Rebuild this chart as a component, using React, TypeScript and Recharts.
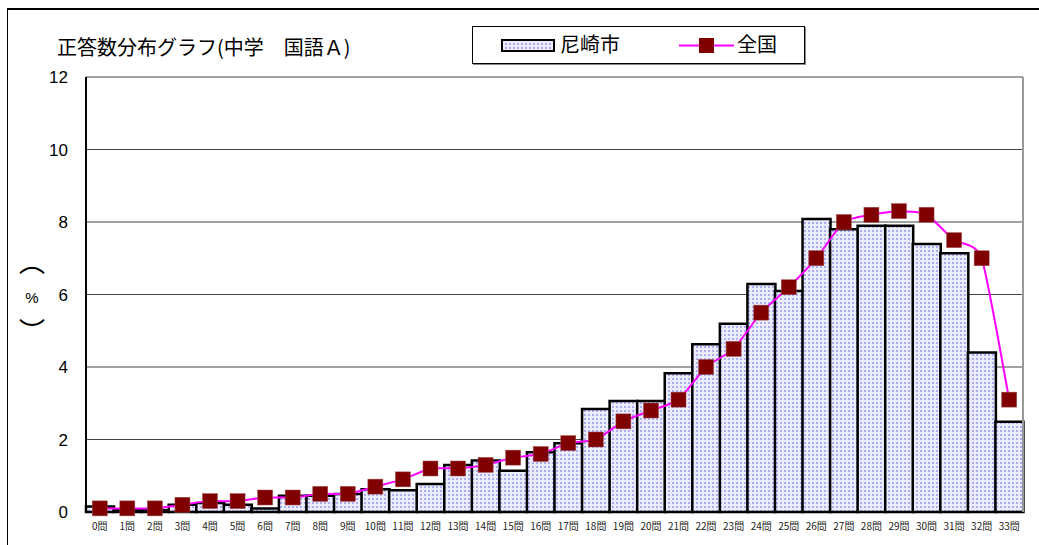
import { ComposedChart, Bar, Line, XAxis, YAxis, CartesianGrid } from 'recharts';

const questions = [
  '0問', '1問', '2問', '3問', '4問', '5問', '6問', '7問', '8問', '9問',
  '10問', '11問', '12問', '13問', '14問', '15問', '16問', '17問', '18問', '19問',
  '20問', '21問', '22問', '23問', '24問', '25問', '26問', '27問', '28問', '29問',
  '30問', '31問', '32問', '33問',
];

const amagasaki = [
  0.15, 0.05, 0.05, 0.2, 0.25, 0.2, 0.1, 0.45, 0.45, 0.5,
  0.63, 0.6, 0.77, 1.3, 1.42, 1.14, 1.65, 1.9, 2.84, 3.06,
  3.06, 3.83, 4.63, 5.19, 6.29, 6.1, 8.08, 7.8, 7.9, 7.9,
  7.39, 7.14, 4.4, 2.49,
];

const national = [
  0.1, 0.1, 0.1, 0.2, 0.3, 0.3, 0.4, 0.4, 0.5, 0.5,
  0.7, 0.9, 1.2, 1.2, 1.3, 1.5, 1.6, 1.9, 2.0, 2.5,
  2.8, 3.1, 4.0, 4.5, 5.5, 6.2, 7.0, 8.0, 8.2, 8.3,
  8.2, 7.5, 7.0, 3.1,
];

const yTicks = [0, 2, 4, 6, 8, 10, 12];

const data = questions.map((q, i) => ({ name: q, city: amagasaki[i], nation: national[i] }));

const jpFont = '"Noto Sans CJK JP", "Liberation Sans", sans-serif';

// gently smoothed line, a bit like Excel's smoothing
function smoothCurve(context: any) {
  let pts: number[][] = [];
  const k = 1 / 10;
  return {
    areaStart() {},
    areaEnd() {},
    lineStart() {
      pts = [];
    },
    point(x: number, y: number) {
      pts.push([+x, +y]);
    },
    lineEnd() {
      if (!pts.length) return;
      context.moveTo(pts[0][0], pts[0][1]);
      for (let i = 0; i < pts.length - 1; i++) {
        const p0 = pts[i - 1] || pts[i];
        const p1 = pts[i];
        const p2 = pts[i + 1];
        const p3 = pts[i + 2] || p2;
        context.bezierCurveTo(
          p1[0] + (p2[0] - p0[0]) * k,
          p1[1] + (p2[1] - p0[1]) * k,
          p2[0] - (p3[0] - p1[0]) * k,
          p2[1] - (p3[1] - p1[1]) * k,
          p2[0],
          p2[1],
        );
      }
    },
  };
}

function SquareDot(props: any) {
  const { cx, cy, index } = props;
  if (cx == null || cy == null) return null;
  return <rect key={index} x={cx - 7.5} y={cy - 7.5} width={15} height={15} fill="#800000" stroke="#a05050" strokeWidth={0.5} />;
}

function PercentLabel(props: any) {
  const { viewBox } = props;
  const cy = viewBox.y + viewBox.height / 2;
  const x = 24;
  return (
    <g fill="#000" textAnchor="middle">
      <text x={x} y={cy - 23} fontSize={26} fontFamily={jpFont}>︵</text>
      <text x={x} y={cy + 8} fontSize={15} fontFamily='"Liberation Sans", Arial, sans-serif'>%</text>
      <text x={x} y={cy + 46} fontSize={26} fontFamily={jpFont}>︶</text>
    </g>
  );
}

function DotPattern({ id }: { id: string }) {
  return (
    <pattern id={id} width="4" height="4" patternUnits="userSpaceOnUse">
      <rect width="4" height="4" fill="#ececff" />
      <rect x="0" y="0" width="2" height="2" fill="#adadf2" />
    </pattern>
  );
}

export default function App() {
  return (
    <div
      style={{
        position: 'fixed',
        left: 7,
        top: 8,
        width: 1032,
        height: 537,
        borderLeft: '1px solid #000',
        borderTop: '2px solid #000',
        overflow: 'hidden',
        background: '#fff',
      }}
    >
      <svg width={0} height={0} style={{ position: 'absolute' }}>
        <defs>
          <DotPattern id="dots" />
        </defs>
      </svg>

      <div
        style={{
          position: 'absolute',
          left: 49,
          top: 25,
          fontFamily: jpFont,
          fontSize: 20,
          lineHeight: '24px',
          color: '#000',
          whiteSpace: 'pre',
        }}
      >
        正答数分布グラフ(中学　国語Ａ)
      </div>

      <div
        style={{
          position: 'absolute',
          left: 464,
          top: 16,
          width: 331,
          height: 36,
          border: '1px solid #000',
          boxShadow: '1px 1px 0 #888',
          fontFamily: jpFont,
          fontSize: 20,
          color: '#000',
        }}
      >
        <svg width={331} height={36} style={{ position: 'absolute', left: 0, top: 0 }}>
          <rect x={29} y={13} width={52} height={11} fill="url(#dots)" stroke="#000" strokeWidth={2} />
          <line x1={206} y1={18.5} x2={261} y2={18.5} stroke="#ff00ff" strokeWidth={2} />
          <rect x={226} y={11} width={15} height={15} fill="#800000" />
        </svg>
        <span style={{ position: 'absolute', left: 87, top: 4, lineHeight: '26px' }}>尼崎市</span>
        <span style={{ position: 'absolute', left: 264, top: 4, lineHeight: '26px' }}>全国</span>
      </div>

      <ComposedChart
        width={1031}
        height={535}
        data={data}
        margin={{ top: 67, right: 0, bottom: 0, left: 0 }}
        barCategoryGap={0}
        barGap={0}
      >
        <CartesianGrid vertical={false} stroke="#444" strokeWidth={1} />
        <XAxis
          dataKey="name"
          height={33}
          interval={0}
          tickLine={false}
          axisLine={{ stroke: '#000', strokeWidth: 2 }}
          tick={{ fontSize: 10, fill: '#222', fontFamily: jpFont }}
          tickMargin={5}
        />
        <YAxis
          width={78}
          domain={[0, 12]}
          ticks={yTicks}
          interval={0}
          tickLine={false}
          axisLine={{ stroke: '#000', strokeWidth: 2 }}
          tick={{ fontSize: 17, fill: '#000', fontFamily: '"Liberation Sans", Arial, sans-serif' }}
          tickMargin={12}
          label={<PercentLabel />}
        />
        <YAxis
          yAxisId="r"
          orientation="right"
          width={16}
          domain={[0, 12]}
          tick={false}
          tickLine={false}
          axisLine={{ stroke: '#999', strokeWidth: 2 }}
        />
        <Bar
          dataKey="city"
          name="尼崎市"
          fill="url(#dots)"
          stroke="#000"
          strokeWidth={2.5}
          isAnimationActive={false}
        />
        <Line
          dataKey="nation"
          name="全国"
          type={smoothCurve as any}
          stroke="#ff00ff"
          strokeWidth={2}
          dot={<SquareDot />}
          activeDot={false}
          isAnimationActive={false}
        />
      </ComposedChart>
    </div>
  );
}
